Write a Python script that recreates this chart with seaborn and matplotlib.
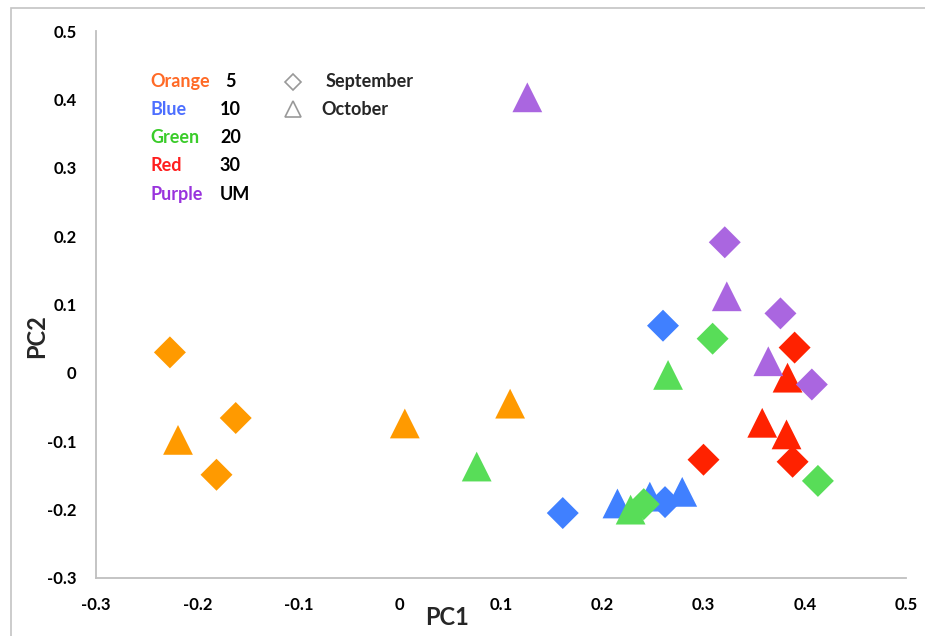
import pandas as pd
import matplotlib.pyplot as plt
import seaborn as sns
from matplotlib.patches import Rectangle

# groups (colour -> label) and months
groups = ['Orange', 'Blue', 'Green', 'Red', 'Purple']
group_labels = ['5', '10', '20', '30', 'UM']
months = ['September', 'October']

# PC scores, three per group per month
sep_pc1 = {'Orange': [-0.227, -0.162, -0.181],
           'Blue': [0.260, 0.161, 0.262],
           'Green': [0.309, 0.413, 0.241],
           'Red': [0.390, 0.300, 0.388],
           'Purple': [0.321, 0.376, 0.407]}
sep_pc2 = {'Orange': [0.030, -0.066, -0.149],
           'Blue': [0.069, -0.205, -0.189],
           'Green': [0.050, -0.158, -0.192],
           'Red': [0.037, -0.127, -0.130],
           'Purple': [0.191, 0.087, -0.017]}
oct_pc1 = {'Orange': [-0.219, 0.005, 0.109],
           'Blue': [0.215, 0.247, 0.279],
           'Green': [0.265, 0.076, 0.228],
           'Red': [0.383, 0.358, 0.382],
           'Purple': [0.126, 0.323, 0.364]}
oct_pc2 = {'Orange': [-0.098, -0.074, -0.045],
           'Blue': [-0.191, -0.181, -0.174],
           'Green': [-0.003, -0.137, -0.200],
           'Red': [-0.007, -0.073, -0.090],
           'Purple': [0.403, 0.112, 0.017]}

marker_colors = ['#FF9A00', '#4080FF', '#58DD58', '#FF2200', '#AA66E0']
text_colors = ['#FF6A26', '#4D6FFF', '#3ACC2A', '#FF1E1E', '#9933DD']

rows = []
for g in groups:
    for x, y in zip(sep_pc1[g], sep_pc2[g]):
        rows.append((g, 'September', x, y))
    for x, y in zip(oct_pc1[g], oct_pc2[g]):
        rows.append((g, 'October', x, y))
df = pd.DataFrame(rows, columns=['group', 'month', 'PC1', 'PC2'])

sns.set_style('white')
plt.rcParams['font.family'] = ['Lato', 'DejaVu Sans']
plt.rcParams['font.weight'] = 'bold'

fig = plt.figure(figsize=(9.25, 6.36), dpi=100)
ax = fig.add_axes([96 / 925, 1 - 578 / 636, 810 / 925, 547 / 636])

palette = dict(zip(groups, marker_colors))
# triangles first, diamonds on top
sns.scatterplot(data=df[df.month == 'October'], x='PC1', y='PC2', hue='group',
                hue_order=groups, palette=palette, marker='^', s=460,
                linewidth=0, legend=False, ax=ax)
sns.scatterplot(data=df[df.month == 'September'], x='PC1', y='PC2', hue='group',
                hue_order=groups, palette=palette, marker='D', s=265,
                linewidth=0, legend=False, ax=ax)

ax.set_xlim(-0.3, 0.5)
ax.set_ylim(-0.3, 0.5)
ax.set_xticks([-0.3, -0.2, -0.1, 0, 0.1, 0.2, 0.3, 0.4, 0.5])
ax.set_yticks([-0.3, -0.2, -0.1, 0, 0.1, 0.2, 0.3, 0.4, 0.5])
ax.set_xticklabels(['-0.3', '-0.2', '-0.1', '0', '0.1', '0.2', '0.3', '0.4', '0.5'])
ax.set_yticklabels(['-0.3', '-0.2', '-0.1', '0', '0.1', '0.2', '0.3', '0.4', '0.5'])

sns.despine(ax=ax)
for side in ['left', 'bottom']:
    ax.spines[side].set_color('#BFBFBF')
    ax.spines[side].set_linewidth(1.3)
ax.tick_params(axis='both', direction='out', length=4, width=1.3, color='#BFBFBF',
               labelsize=12, labelcolor='black', pad=10)
for lab in ax.get_xticklabels() + ax.get_yticklabels():
    lab.set_fontweight('bold')

ax.set_xlabel('PC1', fontsize=17, fontweight='bold', va='center')
ax.set_ylabel('PC2', fontsize=17, fontweight='bold', va='center')
ax.xaxis.set_label_coords(0.433, -0.073)
ax.yaxis.set_label_coords(-0.073, 0.442)

# colour key
ys = [0.9068, 0.8556, 0.8044, 0.7532, 0.7020]
for name, lab, col, yy in zip(groups, group_labels, text_colors, ys):
    ax.text(0.0667, yy, name, color=col, fontsize=13, fontweight='bold',
            va='center', ha='left', transform=ax.transAxes)
    ax.text(0.160 if lab == '5' else 0.153, yy, lab, color='black', fontsize=13,
            fontweight='bold', va='center', ha='left', transform=ax.transAxes)

# month key
ax.plot([0.243], [0.9068], marker='D', ms=8.5, mfc='white', mec='#999999', mew=1.2,
        transform=ax.transAxes, clip_on=False)
ax.plot([0.243], [0.857], marker='^', ms=12, mfc='white', mec='#999999', mew=1.2,
        transform=ax.transAxes, clip_on=False)
ax.text(0.283, 0.9068, months[0], fontsize=13, fontweight='bold', va='center',
        transform=ax.transAxes)
ax.text(0.278, 0.857, months[1], fontsize=13, fontweight='bold', va='center',
        transform=ax.transAxes)

# chart area border (cropped at right / bottom)
fig.add_artist(Rectangle((11 / 925, -0.1), 1.2, 1.1 - 8 / 636, transform=fig.transFigure,
                         fill=False, edgecolor='#C4C4C4', linewidth=1.2))

fig.savefig('out.png', dpi=100)
